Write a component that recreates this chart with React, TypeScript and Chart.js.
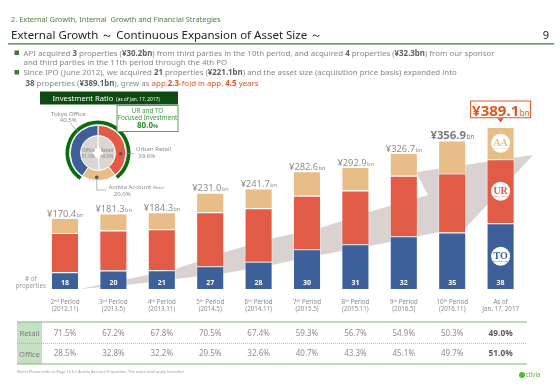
import React, { useEffect, useRef } from "react";
import { Chart, registerables } from "chart.js";
Chart.register(...registerables);

const FONT = "'Noto Sans', sans-serif";
const BLUE = "#3d609b";
const RED = "#e15b46";
const TAN = "#e8bd88";
const DARK_GREEN = "#0b6b10";
const ORANGE = "#e0561f";

// ---- data ----
const categories = [
  "2nd Period (2012.11)", "3rd Period (2013.5)", "4th Period (2013.11)", "5th Period (2014.5)",
  "6th Period (2014.11)", "7th Period (2015.5)", "8th Period (2015.11)", "9th Period (2016.5)",
  "10th Period (2016.11)", "As of Jan. 17, 2017",
];
const periodLine1 = ["2nd Period", "3rd Period", "4th Period", "5th Period", "6th Period", "7th Period", "8th Period", "9th Period", "10th Period", "As of"];
const periodLine2 = ["(2012.11)", "(2013.5)", "(2013.11)", "(2014.5)", "(2014.11)", "(2015.5)", "(2015.11)", "(2016.5)", "(2016.11)", "Jan. 17, 2017"];
const totalAssets = [170.4, 181.3, 184.3, 231.0, 241.7, 282.6, 292.9, 326.7, 356.9, 389.1];
const tokyoOffice = [40.0, 44.5, 45.0, 54.5, 65.2, 95.3, 107.5, 127.0, 136.0, 157.8];
const urbanRetail = [94.4, 96.0, 98.5, 130.0, 129.0, 128.8, 129.0, 145.0, 141.7, 153.7];
const activiaAccount = [36.0, 40.8, 40.8, 46.5, 47.5, 58.5, 56.4, 54.7, 79.2, 77.6];
const propertyCounts = [18, 20, 21, 27, 28, 30, 31, 32, 35, 38];
const retailRatio = ["71.5%", "67.2%", "67.8%", "70.5%", "67.4%", "59.3%", "56.7%", "54.9%", "50.3%", "49.0%"];
const officeRatio = ["28.5%", "32.8%", "32.2%", "29.5%", "32.6%", "40.7%", "43.3%", "45.1%", "49.7%", "51.0%"];
const tableRows = ["Retail", "Office"];

// growth arrow outline in (category position, value) space
const arrowIdx = [0.31, 1.30, 2.29, 3.31, 4.30, 5.29, 6.28, 7.50, 7.25, 9.67, 8.31, 6.28, 5.29, 4.30, 3.31, 2.29, 1.30];
const arrowVal = [0, 24, 48, 89, 122, 147, 185, 226, 281, 322, 151, 103, 82, 58, 38, 24, 10];

// investment ratio donut
const mixLabels = ["Urban Retail", "Activia Account", "Tokyo Office"];
const mixValues = [39.6, 20.0, 40.5];
const typeLabels = ["Retail", "Office"];
const typeValues = [49.0, 51.0];

const iconTexts = ["TO", "UR", "AA"];
const iconSubs = ["TOKYO OFFICE", "URBAN RETAIL", "ACTIVIA ACCOUNT"];

const bullet1 = [["API acquired ", 0], ["3", 1], [" properties (", 0], ["¥30.2bn", 1], [") from third parties in the 10th period, and acquired ", 0], ["4", 1], [" properties (", 0], ["¥32.3bn", 1], [") from our sponsor", 0]];
const bullet2 = [["and third parties in the 11th period through the 4th PO", 0]];
const bullet3 = [["Since IPO (June 2012), we acquired ", 0], ["21", 1], [" properties (", 0], ["¥221.1bn", 1], [") and the asset size (acquisition price basis) expanded into", 0]];
const bullet4 = [["38", 1], [" properties (", 0], ["¥389.1bn", 1], ["), grew as ", 0], ["app.", 2], ["2.3", 3], ["-fold in app. ", 2], ["4.5", 3], [" years", 2]];

const decorPlugin = {
  id: "assetDecor",
  beforeDatasetsDraw(chart: any) {
    const { ctx, scales } = chart;
    const xs = scales.x, ys = scales.y;
    const x0 = xs.getPixelForValue(0);
    const step = xs.getPixelForValue(1) - x0;
    ctx.save();
    ctx.beginPath();
    arrowIdx.forEach((v, k) => {
      const px = x0 + v * step, py = ys.getPixelForValue(arrowVal[k]);
      if (k === 0) ctx.moveTo(px, py); else ctx.lineTo(px, py);
    });
    ctx.closePath();
    ctx.fillStyle = "#d9d2d1";
    ctx.fill();
    ctx.restore();
  },
  afterDatasetsDraw(chart: any) {
    const { ctx, scales, chartArea } = chart;
    const ys = scales.y;
    const base = ys.getPixelForValue(0);
    const topMeta = chart.getDatasetMeta(2);
    const botMeta = chart.getDatasetMeta(0);
    const n = totalAssets.length;
    ctx.save();
    // value labels
    totalAssets.forEach((v, i) => {
      const el = topMeta.data[i];
      let size = 9.3, weight = "normal", color = "#8e8e8e", sub = 5.5, gap = 1.5;
      if (i === n - 2) { size = 11.3; weight = "bold"; color = "#7b7b7b"; sub = 6.5; }
      if (i === n - 1) { size = 15; weight = "bold"; color = ORANGE; sub = 8; gap = 11.3; }
      const main = "¥" + v.toFixed(1);
      ctx.font = `${weight} ${size}px ${FONT}`;
      const w1 = ctx.measureText(main).width;
      ctx.font = `normal ${sub}px ${FONT}`;
      const w2 = ctx.measureText("bn").width;
      const sx = el.x - (w1 + w2) / 2;
      const by = el.y - gap;
      if (i === n - 1) {
        ctx.fillStyle = "#fff";
        ctx.strokeStyle = ORANGE;
        ctx.lineWidth = 1;
        ctx.fillRect(sx - 1.5, by - 14.7, w1 + w2 + 3, 16.7);
        ctx.strokeRect(sx - 1.5, by - 14.7, w1 + w2 + 3, 16.7);
        ctx.beginPath();
        ctx.moveTo(el.x - 3, by + 2.5);
        ctx.lineTo(el.x + 3, by + 2.5);
        ctx.lineTo(el.x, by + 6.8);
        ctx.closePath();
        ctx.fillStyle = ORANGE;
        ctx.fill();
      }
      ctx.textAlign = "left";
      ctx.textBaseline = "alphabetic";
      ctx.fillStyle = color;
      ctx.font = `${weight} ${size}px ${FONT}`;
      ctx.fillText(main, sx, by);
      ctx.font = `normal ${sub}px ${FONT}`;
      ctx.fillText("bn", sx + w1 + 0.5, by);
    });
    // property counts
    ctx.font = `bold 7px ${FONT}`;
    ctx.fillStyle = "#fff";
    ctx.textAlign = "center";
    ctx.textBaseline = "middle";
    propertyCounts.forEach((c, i) => ctx.fillText(String(c), botMeta.data[i].x, base - 5.7));
    // "# of properties"
    ctx.fillStyle = "#9a9a9a";
    ctx.font = `6.2px ${FONT}`;
    ctx.fillText("# of", chartArea.left - 10, base - 10);
    ctx.fillText("properties", chartArea.left - 10, base - 2.7);
    // x labels
    ctx.fillStyle = "#8a8a8a";
    periodLine1.forEach((t, i) => {
      const xc = botMeta.data[i].x;
      const m = t.match(/^(\d+)(st|nd|rd|th)(.*)$/);
      ctx.textBaseline = "middle";
      if (m) {
        ctx.font = `6.2px ${FONT}`;
        const a = ctx.measureText(m[1]).width;
        const c = ctx.measureText(m[3]).width;
        ctx.font = `4px ${FONT}`;
        const b = ctx.measureText(m[2]).width;
        const sx = xc - (a + b + c) / 2;
        ctx.textAlign = "left";
        ctx.font = `6.2px ${FONT}`;
        ctx.fillText(m[1], sx, base + 13.3);
        ctx.font = `4px ${FONT}`;
        ctx.fillText(m[2], sx + a, base + 11.6);
        ctx.font = `6.2px ${FONT}`;
        ctx.fillText(m[3], sx + a + b, base + 13.3);
      } else {
        ctx.textAlign = "center";
        ctx.font = `6.2px ${FONT}`;
        ctx.fillText(t, xc, base + 13.3);
      }
      ctx.textAlign = "center";
      ctx.font = `6.2px ${FONT}`;
      ctx.fillText(periodLine2[i], xc, base + 20.3);
    });
    // ratio table values
    [retailRatio, officeRatio].forEach((row, r) => {
      row.forEach((t, i) => {
        const last = i === n - 1;
        ctx.font = `${last ? "bold 8.3px" : "8px"} ${FONT}`;
        ctx.fillStyle = last ? "#5a5a5a" : "#8e8e8e";
        ctx.textAlign = "center";
        ctx.textBaseline = "middle";
        ctx.fillText(t, botMeta.data[i].x, base + 44.3 + r * 20.7);
      });
    });
    // segment icons on latest bar
    iconTexts.forEach((t, ds) => {
      const el = chart.getDatasetMeta(ds).data[n - 1];
      const cx = el.x, cy = (el.y + el.base) / 2;
      const col = chart.data.datasets[ds].backgroundColor;
      ctx.beginPath();
      ctx.arc(cx, cy, 9.5, 0, Math.PI * 2);
      ctx.fillStyle = "#fff";
      ctx.fill();
      ctx.fillStyle = col;
      ctx.textAlign = "center";
      ctx.textBaseline = "alphabetic";
      ctx.font = `bold 10px 'Liberation Serif', serif`;
      ctx.fillText(t, cx, cy + 2.8);
      ctx.font = `2.2px ${FONT}`;
      ctx.fillText(iconSubs[ds], cx, cy + 5.8);
    });
    ctx.restore();
  },
};

function Seg({ segs }: { segs: any[] }) {
  const styles: any = {
    0: { fill: "#878787", fontWeight: "normal" },
    1: { fill: "#606060", fontWeight: "bold" },
    2: { fill: ORANGE, fontWeight: "normal" },
    3: { fill: ORANGE, fontWeight: "bold" },
  };
  return (
    <>
      {segs.map((s, i) => (
        <tspan key={i} fill={styles[s[1]].fill} fontWeight={styles[s[1]].fontWeight}>{s[0]}</tspan>
      ))}
    </>
  );
}

export default function App() {
  const barRef = useRef<HTMLCanvasElement>(null);
  const donutRef = useRef<HTMLCanvasElement>(null);

  useEffect(() => {
    const bar = new Chart(barRef.current as HTMLCanvasElement, {
      type: "bar",
      data: {
        labels: categories,
        datasets: [
          { label: "Tokyo Office", data: tokyoOffice, backgroundColor: BLUE, borderColor: "rgba(255,255,255,0.45)", borderWidth: 1, barPercentage: 0.58, categoryPercentage: 1 },
          { label: "Urban Retail", data: urbanRetail, backgroundColor: RED, borderColor: "rgba(255,255,255,0.45)", borderWidth: 1, barPercentage: 0.58, categoryPercentage: 1 },
          { label: "Activia Account", data: activiaAccount, backgroundColor: TAN, borderColor: "rgba(255,255,255,0.45)", borderWidth: 1, barPercentage: 0.58, categoryPercentage: 1 },
        ],
      },
      options: {
        responsive: false,
        animation: false,
        layout: { padding: { left: 40.8, right: 35.2, top: 122.5, bottom: 99 } },
        scales: {
          x: { display: false, stacked: true },
          y: { display: false, stacked: true, min: 0, max: 400 },
        },
        plugins: { legend: { display: false }, tooltip: { enabled: false } },
      },
      plugins: [decorPlugin],
    } as any);

    const donut = new Chart(donutRef.current as HTMLCanvasElement, {
      type: "doughnut",
      data: {
        labels: mixLabels,
        datasets: [
          { data: mixValues, backgroundColor: [DARK_GREEN, "rgba(0,0,0,0)", DARK_GREEN], borderWidth: 0, weight: 3.5 },
          { data: [100], backgroundColor: "rgba(0,0,0,0)", borderWidth: 0, weight: 1 },
          { data: mixValues, backgroundColor: [RED, TAN, BLUE], borderColor: "#fff", borderWidth: 1, weight: 10 },
          { label: "type", data: typeValues, backgroundColor: ["#dbd5d4", "#dbd5d4"], borderColor: "#fff", borderWidth: 1, weight: 12.5 },
        ],
      },
      options: {
        responsive: false,
        animation: false,
        radius: 32.5,
        cutout: 5.5,
        layout: { padding: 0 },
        plugins: { legend: { display: false }, tooltip: { enabled: false } },
      },
    } as any);

    return () => {
      bar.destroy();
      donut.destroy();
    };
  }, []);

  const T = { fontFamily: FONT } as any;
  return (
    <div style={{ position: "fixed", left: 0, top: 0, width: 560, height: 388, background: "#fff", overflow: "hidden" }}>
      <canvas ref={barRef} width={560} height={388} style={{ position: "absolute", left: 0, top: 0 }} />
      <canvas ref={donutRef} width={80} height={80} style={{ position: "absolute", left: 58, top: 113 }} />
      <svg width={560} height={388} style={{ position: "absolute", left: 0, top: 0, pointerEvents: "none" }} xmlSpace="preserve">
        <g style={T}>
          <text x={11} y={21.6} fontSize={7.4} fill="#4f8040" style={{ whiteSpace: "pre" }}>2. External Growth, Internal  Growth and Financial Strategies</text>
          <text x={11} y={38.5} fontSize={11.5} fill="#222">External Growth ～ Continuous Expansion of Asset Size ～</text>
          <text x={546} y={38.5} fontSize={11} fill="#222" textAnchor="middle">9</text>
          <line x1={8} y1={43.8} x2={554} y2={43.8} stroke="#3d7a3d" strokeWidth={1.2} />

          <rect x={14.5} y={50.5} width={4.5} height={4.5} fill="#3c7a3c" />
          <text x={23.5} y={55.5} fontSize={7.9} style={{ whiteSpace: "pre" }}><Seg segs={bullet1} /></text>
          <text x={23.5} y={64.5} fontSize={7.9} style={{ whiteSpace: "pre" }}><Seg segs={bullet2} /></text>
          <rect x={14.5} y={70} width={4.5} height={4.5} fill="#3c7a3c" />
          <text x={23.5} y={75.1} fontSize={7.9} style={{ whiteSpace: "pre" }}><Seg segs={bullet3} /></text>
          <text x={25.5} y={85.5} fontSize={7.9} style={{ whiteSpace: "pre" }}><Seg segs={bullet4} /></text>

          <rect x={40} y={91.5} width={138} height={13} fill="#0e4a12" />
          <text x={52.5} y={100.8} fontSize={7.6} fill="#fff">Investment Ratio<tspan fontSize={4.8} dx={3}>(as of Jan. 17, 2017)</tspan></text>

          <rect x={117} y={105.5} width={61} height={26} fill="#fff" stroke="#5aa55a" strokeWidth={1} />
          <text x={147.5} y={113.4} fontSize={6.3} fill="#3a9a3a" textAnchor="middle">UR and TO</text>
          <text x={147.5} y={120.1} fontSize={6.3} fill="#3a9a3a" textAnchor="middle">Focused Investment</text>
          <text x={147.5} y={128.2} fontSize={8} fill="#2f8f2f" fontWeight="bold" textAnchor="middle">80.0<tspan fontSize={5.5}>%</tspan></text>

          <line x1={70} y1={123} x2={81.7} y2={135.3} stroke="#9a9a9a" strokeWidth={0.7} />
          <circle cx={81.7} cy={135.3} r={1.8} fill="#555" />
          <text x={68.3} y={116} fontSize={6} fill="#8a8a8a" textAnchor="middle">Tokyo Office</text>
          <text x={68.3} y={122.3} fontSize={6} fill="#8a8a8a" textAnchor="middle">40.5%</text>

          <line x1={120.7} y1={153.7} x2={134} y2={153.7} stroke="#9a9a9a" strokeWidth={0.7} />
          <circle cx={120.7} cy={153.7} r={1.8} fill="#555" />
          <text x={136} y={151} fontSize={6} fill="#8a8a8a">Urban Retail</text>
          <text x={146.7} y={157.7} fontSize={6} fill="#8a8a8a" textAnchor="middle">39.6%</text>

          <polyline points="96.7,177.3 96.7,190 106.5,190" fill="none" stroke="#9a9a9a" strokeWidth={0.7} />
          <circle cx={96.7} cy={177.3} r={1.8} fill="#555" />
          <text x={108.5} y={189} fontSize={6} fill="#8a8a8a">Activia Account<tspan fontSize={3.8} dx={1.5}>(Note)</tspan></text>
          <text x={122.3} y={195.7} fontSize={6} fill="#8a8a8a" textAnchor="middle">20.0%</text>

          <text x={88.3} y={152} fontSize={4.8} fill="#8a8a8a" textAnchor="middle">Office</text>
          <text x={88.3} y={157.5} fontSize={4.8} fill="#8a8a8a" textAnchor="middle">51.0%</text>
          <text x={106.7} y={152} fontSize={4.8} fill="#8a8a8a" textAnchor="middle">Retail</text>
          <text x={106.7} y={157.5} fontSize={4.8} fill="#8a8a8a" textAnchor="middle">49.0%</text>

          <rect x={17} y={322} width={25} height={42} fill="#c6e0c4" />
          <line x1={17} y1={322} x2={527} y2={322} stroke="#7ab77a" strokeWidth={1.2} />
          <line x1={17} y1={343.3} x2={527} y2={343.3} stroke="#7ab77a" strokeWidth={0.8} strokeDasharray="1 1" />
          <line x1={17} y1={364} x2={527} y2={364} stroke="#7ab77a" strokeWidth={1.2} />
          <text x={29.5} y={336} fontSize={7.6} fill="#7a7a7a" textAnchor="middle">{tableRows[0]}</text>
          <text x={29.5} y={356.7} fontSize={7.6} fill="#7a7a7a" textAnchor="middle">{tableRows[1]}</text>

          <text x={16.7} y={373.3} fontSize={3.9} fill="#9a9a9a">(Note) Please refer to Page 16 for Activia Account Properties. The same shall apply hereafter.</text>
          <circle cx={522} cy={375} r={3} fill="#5bb33a" />
          <text x={525.5} y={377.2} fontSize={6.2} fill="#5bb33a">ctivia</text>
        </g>
      </svg>
    </div>
  );
}
